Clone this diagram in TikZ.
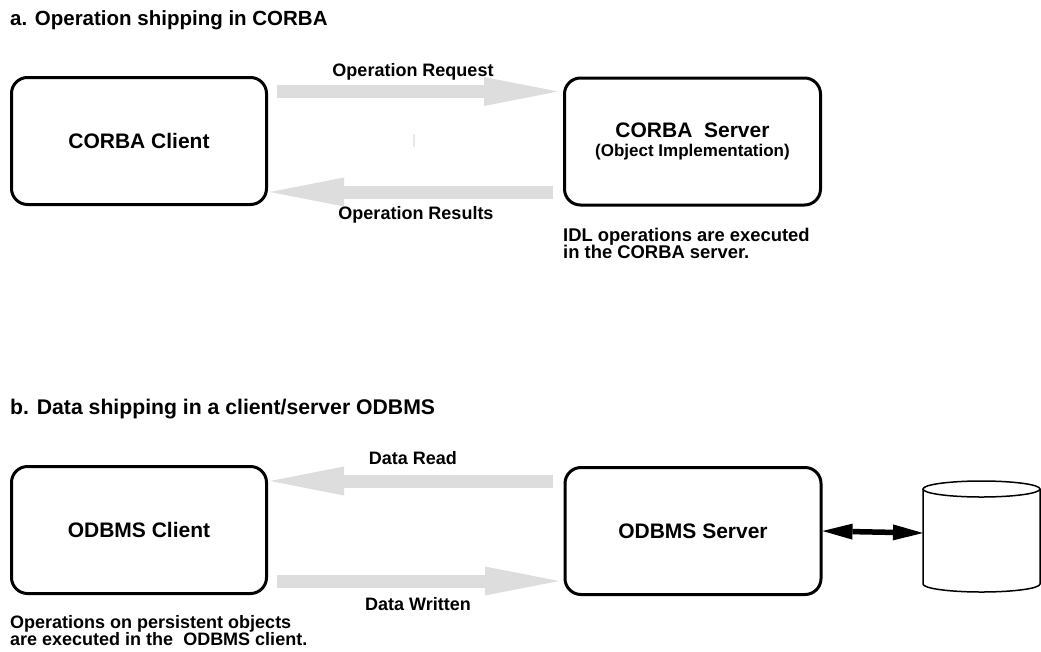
\documentclass[tikz,border=0pt]{standalone}
\usepackage{fontspec}
\setmainfont{Liberation Sans}
\usetikzlibrary{arrows.meta}
\definecolor{shipgray}{RGB}{221,221,221}
\definecolor{tickgray}{RGB}{232,232,232}
\newcommand\tightlines{\lineskiplimit=-30pt\relax}
\begin{document}
\begin{tikzpicture}[x=1pt,y=-1pt,
  box/.style={draw, line width=3pt, rounded corners=16pt, minimum width=255pt,
    minimum height=127pt, inner sep=0pt, font=\fontsize{21}{25}\selectfont\bfseries},
  heading/.style={anchor=base west, inner sep=0pt, font=\fontsize{20.5}{24}\selectfont\bfseries},
  flowlabel/.style={anchor=base, inner sep=0pt, font=\fontsize{18}{20}\selectfont\bfseries},
  remark/.style={anchor=base west, inner sep=0pt, align=left,
    font=\fontsize{18.4}{17}\selectfont\bfseries\tightlines},
  ship/.style={draw=shipgray, line width=13pt,
    -{Triangle[length=74pt,width=29pt,line width=0pt]}},
  link/.style={line width=5.5pt,
    {Triangle[length=30pt,width=16pt,line width=0pt]}-{Triangle[length=30pt,width=16pt,line width=0pt]}}
]
\useasboundingbox (0,0) rectangle (1041,651);

% ---- a. operation shipping ----
\node[heading] (ta) at (10,25) {a. Operation shipping in CORBA};
\node[box] (cc) at (139,141) {CORBA Client};
\node[box, minimum width=256pt, align=center, font=\fontsize{21}{19}\selectfont\bfseries]
  (cs) at (692.5,141.5) {CORBA\ \ Server\\{\fontsize{17}{19}\selectfont(Object Implementation)}};

\coordinate (reqA) at (277,91.5);
\coordinate (reqB) at (558,91.5);
\coordinate (resA) at (553,192);
\coordinate (resB) at (270,192);
\draw[ship] (reqA) -- (reqB);
\draw[ship] (resA) -- (resB);
\node[flowlabel] (lreq) at (413,76) {Operation Request};
\node[flowlabel] (lres) at (416,219) {Operation Results};
\draw[tickgray, line width=1.5pt] (414,134) -- (414,147);

\node[remark] (na) at (563,258) {IDL operations are executed\\in the CORBA server.};

% ---- b. data shipping ----
\node[heading, font=\fontsize{21.2}{24}\selectfont\bfseries] (tb) at (10,414)
  {b. Data shipping in a client/server ODBMS};
\node[box] (dc) at (139,530) {ODBMS Client};
\node[box, minimum width=256pt] (ds) at (693,531) {ODBMS Server};

\coordinate (rdA) at (553,481);
\coordinate (rdB) at (270,481);
\coordinate (wrA) at (277,581);
\coordinate (wrB) at (559,581);
\draw[ship] (rdA) -- (rdB);
\draw[ship] (wrA) -- (wrB);
\node[flowlabel] (lrd) at (413,464) {Data Read};
\node[flowlabel] (lwr) at (418,610) {Data Written};

% database drum
\draw[line width=1.5pt] (923,489) -- (923,584)
  arc[start angle=180, end angle=360, x radius=58.5pt, y radius=8pt] -- (1040,489);
\draw[line width=1.5pt] (981.5,489) ellipse [x radius=58.5pt, y radius=8pt];
\coordinate (dbw) at (923,533);
\draw[link] (ds.east) -- (dbw);

\node[remark, font=\fontsize{18}{17}\selectfont\bfseries\tightlines] (nb) at (10,645)
  {Operations on persistent objects\\are executed in the\ \ ODBMS client.};
\end{tikzpicture}
\end{document}
